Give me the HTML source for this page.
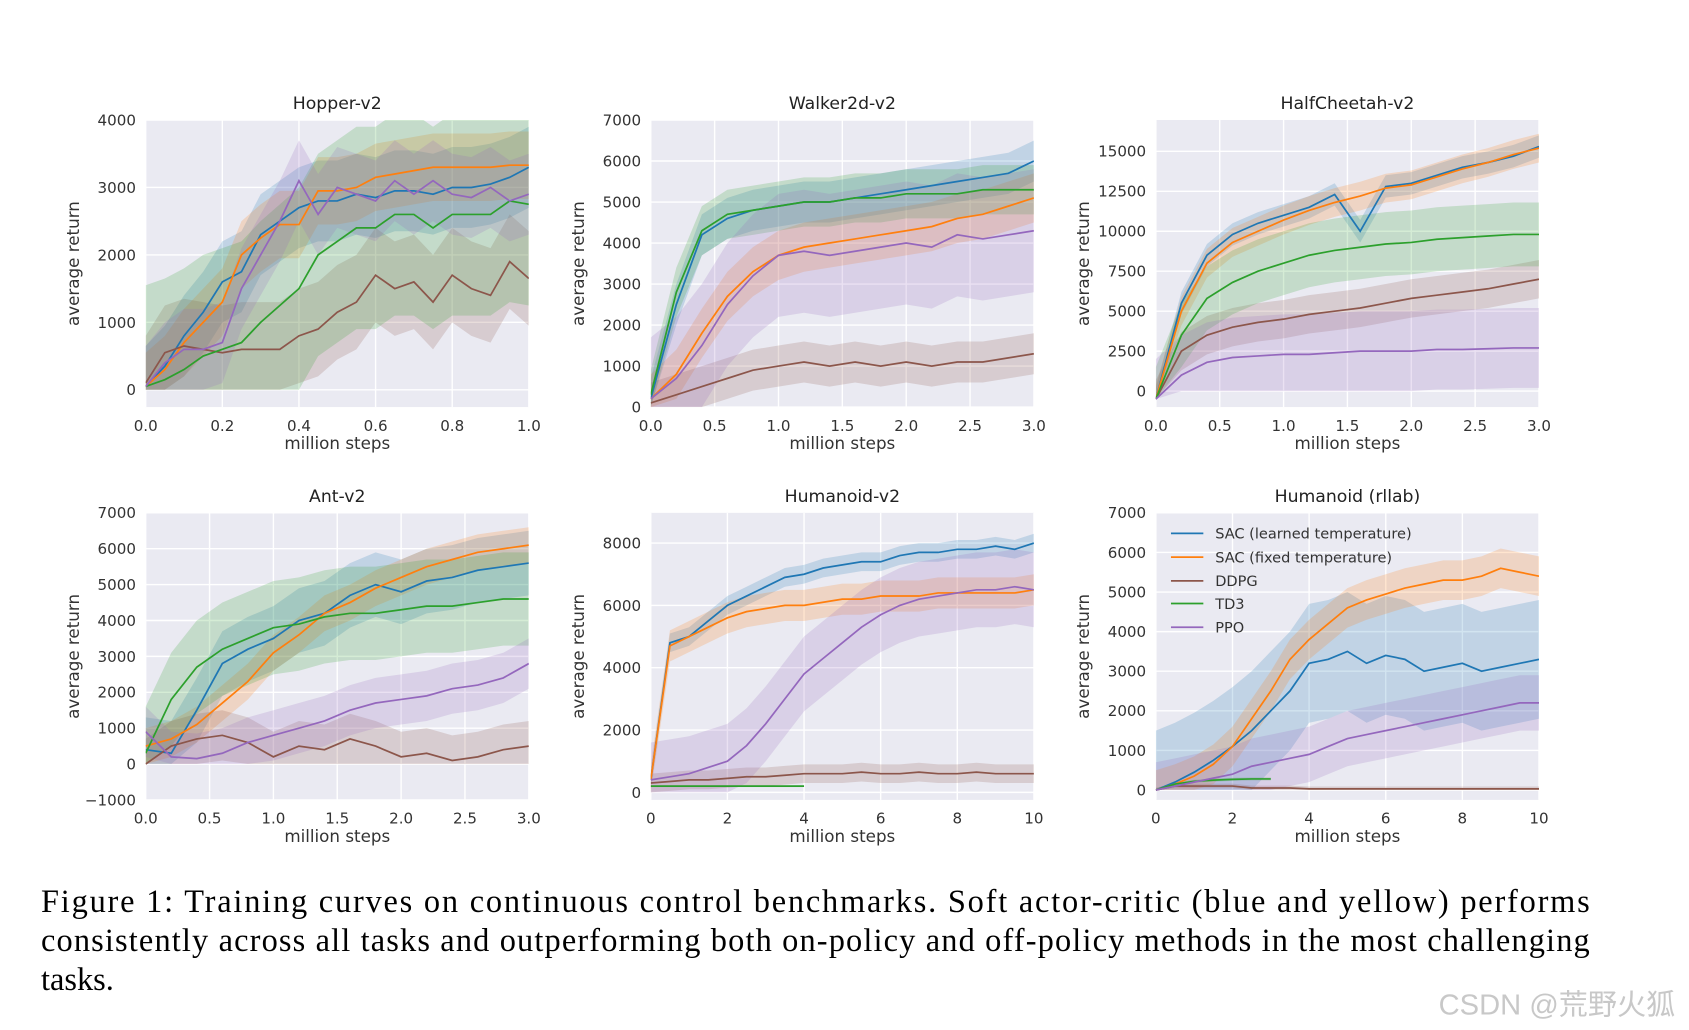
<!DOCTYPE html>
<html><head><meta charset="utf-8"><style>
html,body{margin:0;padding:0;background:#fff;}
svg{display:block;}
</style></head><body>
<svg id="fig" width="1689" height="1030" viewBox="0 0 1565 954" xmlns="http://www.w3.org/2000/svg" font-family="DejaVu Sans, Liberation Sans, sans-serif">
<g id="charts"></g>
<g font-size="13.5" fill="#333">
 <line x1="1085" y1="494" x2="1115" y2="494" stroke="#1f77b4" stroke-width="1.6"/><text x="1126" y="499">SAC (learned temperature)</text>
 <line x1="1085" y1="516" x2="1115" y2="516" stroke="#ff7f0e" stroke-width="1.6"/><text x="1126" y="521">SAC (fixed temperature)</text>
 <line x1="1085" y1="538" x2="1115" y2="538" stroke="#8c564b" stroke-width="1.6"/><text x="1126" y="543">DDPG</text>
 <line x1="1085" y1="559" x2="1115" y2="559" stroke="#2ca02c" stroke-width="1.6"/><text x="1126" y="564">TD3</text>
 <line x1="1085" y1="581" x2="1115" y2="581" stroke="#9467bd" stroke-width="1.6"/><text x="1126" y="586">PPO</text>
</g>
<g font-family="Liberation Serif, serif" font-size="30" fill="#000">
 <text x="38" y="845" textLength="1435" lengthAdjust="spacing">Figure 1:  Training curves on continuous control benchmarks.  Soft actor-critic (blue and yellow) performs</text>
 <text x="38" y="881" textLength="1435" lengthAdjust="spacing">consistently across all tasks and outperforming both on-policy and off-policy methods in the most challenging</text>
 <text x="38" y="917">tasks.</text>
</g>
<text x="1333" y="940" font-size="27" fill="#c8c8c8" font-family="Liberation Sans, Noto Sans CJK SC, sans-serif">CSDN @荒野火狐</text>
</svg>
<script>
const colors=['#1f77b4','#ff7f0e','#8c564b','#2ca02c','#9467bd'];
// Hopper-v2
const hopperX=[0,0.05,0.1,0.15,0.2,0.25,0.3,0.35,0.4,0.45,0.5,0.55,0.6,0.65,0.7,0.75,0.8,0.85,0.9,0.95,1.0];
const hopperBlue=[50,350,800,1150,1600,1750,2300,2500,2700,2800,2800,2900,2850,2950,2950,2900,3000,3000,3050,3150,3300];
const hopperOrange=[50,300,700,1000,1300,2000,2250,2450,2450,2950,2950,3000,3150,3200,3250,3300,3300,3300,3300,3330,3330];
const hopperBrown=[100,550,650,600,550,600,600,600,800,900,1150,1300,1700,1500,1600,1300,1700,1500,1400,1900,1650];
const hopperGreen=[50,150,300,500,600,700,1000,1250,1500,2000,2200,2400,2400,2600,2600,2400,2600,2600,2600,2800,2750];
const hopperPurple=[50,400,600,600,700,1500,2000,2500,3100,2600,3000,2900,2800,3100,2900,3100,2900,2850,3000,2800,2900];
const hopperSpread=[600,500,700,1500,600];
// Walker2d-v2
const walkerX=[0,0.2,0.4,0.6,0.8,1.0,1.2,1.4,1.6,1.8,2.0,2.2,2.4,2.6,2.8,3.0];
const walkerBlue=[200,2500,4200,4600,4800,4900,5000,5000,5100,5200,5300,5400,5500,5600,5700,6000];
const walkerOrange=[200,800,1800,2700,3300,3700,3900,4000,4100,4200,4300,4400,4600,4700,4900,5100];
const walkerBrown=[100,300,500,700,900,1000,1100,1000,1100,1000,1100,1000,1100,1100,1200,1300];
const walkerGreen=[300,2800,4300,4700,4800,4900,5000,5000,5100,5100,5200,5200,5200,5300,5300,5300];
const walkerPurple=[200,700,1500,2500,3200,3700,3800,3700,3800,3900,4000,3900,4200,4100,4200,4300];
const walkerSpread=[500,600,500,600,1500];
// HalfCheetah-v2
const cheetahX=walkerX;
const cheetahBlue=[-500,5500,8500,9800,10500,11000,11500,12300,10000,12800,13000,13500,14000,14300,14700,15300];
const cheetahOrange=[-500,5000,8000,9300,10000,10700,11300,11800,12200,12700,12900,13400,13900,14300,14800,15200];
const cheetahBrown=[-500,2500,3500,4000,4300,4500,4800,5000,5200,5500,5800,6000,6200,6400,6700,7000];
const cheetahGreen=[-500,3500,5800,6800,7500,8000,8500,8800,9000,9200,9300,9500,9600,9700,9800,9800];
const cheetahPurple=[-500,1000,1800,2100,2200,2300,2300,2400,2500,2500,2500,2600,2600,2650,2700,2700];
const cheetahSpread=[700,900,1200,2000,2500];
// Ant-v2
const antX=walkerX;
const antBlue=[400,300,1500,2800,3200,3500,4000,4200,4700,5000,4800,5100,5200,5400,5500,5600];
const antOrange=[500,700,1100,1700,2300,3100,3600,4200,4500,4900,5200,5500,5700,5900,6000,6100];
const antBrown=[0,500,700,800,600,200,500,400,700,500,200,300,100,200,400,500];
const antGreen=[300,1800,2700,3200,3500,3800,3900,4100,4200,4200,4300,4400,4400,4500,4600,4600];
const antPurple=[900,200,150,300,600,800,1000,1200,1500,1700,1800,1900,2100,2200,2400,2800];
const antSpread=[900,500,700,1300,700];
// Humanoid-v2
const humX=[0,0.5,1,1.5,2,2.5,3,3.5,4,4.5,5,5.5,6,6.5,7,7.5,8,8.5,9,9.5,10];
const humBlue=[400,4800,5000,5500,6000,6300,6600,6900,7000,7200,7300,7400,7400,7600,7700,7700,7800,7800,7900,7800,8000];
const humOrange=[400,4700,5000,5300,5600,5800,5900,6000,6000,6100,6200,6200,6300,6300,6300,6400,6400,6400,6400,6400,6500];
const humBrown=[300,350,400,400,450,500,500,550,600,600,600,650,600,600,650,600,600,650,600,600,600];
const humGreen=[200,200,200,200,200,200,200,200,200];
const humPurple=[400,500,600,800,1000,1500,2200,3000,3800,4300,4800,5300,5700,6000,6200,6300,6400,6500,6500,6600,6500];
const humSpread=[300,500,300,30,1200];
// Humanoid (rllab)
const rlX=humX;
const rlBlue=[0,200,450,750,1100,1500,2000,2500,3200,3300,3500,3200,3400,3300,3000,3100,3200,3000,3100,3200,3300];
const rlOrange=[0,150,350,650,1100,1800,2500,3300,3800,4200,4600,4800,4950,5100,5200,5300,5300,5400,5600,5500,5400];
const rlBrown=[0,100,100,100,100,50,50,50,30,30,30,30,30,30,30,30,30,30,30,30,30];
const rlGreen=[0,150,220,250,270,280,280];
const rlPurple=[0,100,200,300,400,600,700,800,900,1100,1300,1400,1500,1600,1700,1800,1900,2000,2100,2200,2200];
const rlSpread=[1500,500,60,40,700];

const ticksHopperY=[0,1000,2000,3000,4000], ticksHopperX=[0,0.2,0.4,0.6,0.8,1.0];
const ticks7000=[0,1000,2000,3000,4000,5000,6000,7000], ticks3X=[0,0.5,1,1.5,2,2.5,3];
const ticksCheetahY=[0,2500,5000,7500,10000,12500,15000];
const ticksAntY=[-1000,0,1000,2000,3000,4000,5000,6000,7000];
const ticksHumY=[0,2000,4000,6000,8000], ticks10X=[0,2,4,6,8,10];

const charts=[
 {name:'hopper',title:'Hopper-v2',L:135,T:111,R:490,B:377,xmin:0,xmax:1,ymin:-256,ymax:4000,xt:ticksHopperX,yt:ticksHopperY,xf:1,x:hopperX,s:[hopperBlue,hopperOrange,hopperBrown,hopperGreen,hopperPurple],sp:hopperSpread},
 {name:'walker',title:'Walker2d-v2',L:603,T:111,R:958,B:377,xmin:0,xmax:3,ymin:0,ymax:7000,xt:ticks3X,yt:ticks7000,xf:1,x:walkerX,s:[walkerBlue,walkerOrange,walkerBrown,walkerGreen,walkerPurple],sp:walkerSpread},
 {name:'halfcheetah',title:'HalfCheetah-v2',L:1071,T:111,R:1426,B:377,xmin:0,xmax:3,ymin:-1000,ymax:16960,xt:ticks3X,yt:ticksCheetahY,xf:1,x:cheetahX,s:[cheetahBlue,cheetahOrange,cheetahBrown,cheetahGreen,cheetahPurple],sp:cheetahSpread},
 {name:'ant',title:'Ant-v2',L:135,T:475,R:490,B:741,xmin:0,xmax:3,ymin:-1000,ymax:7000,xt:ticks3X,yt:ticksAntY,xf:1,x:antX,s:[antBlue,antOrange,antBrown,antGreen,antPurple],sp:antSpread},
 {name:'humanoid',title:'Humanoid-v2',L:603,T:475,R:958,B:741,xmin:0,xmax:10,ymin:-242,ymax:8970,xt:ticks10X,yt:ticksHumY,xf:0,x:humX,s:[humBlue,humOrange,humBrown,humGreen,humPurple],sp:humSpread},
 {name:'humanoid-rllab',title:'Humanoid (rllab)',L:1071,T:475,R:1426,B:741,xmin:0,xmax:10,ymin:-250,ymax:7000,xt:ticks10X,yt:ticks7000,xf:0,x:rlX,s:[rlBlue,rlOrange,rlBrown,rlGreen,rlPurple],sp:rlSpread}
];
const NS='http://www.w3.org/2000/svg';
const root=document.getElementById('charts');
function mk(tag,attrs,parent){const e=document.createElementNS(NS,tag);for(const k in attrs)e.setAttribute(k,attrs[k]);parent.appendChild(e);return e;}
charts.forEach((c,ci)=>{
 const g=mk('g',{},root);
 
 
 const sx=v=>c.L+(v-c.xmin)/(c.xmax-c.xmin)*(c.R-c.L);
 const sy=v=>c.B-(v-c.ymin)/(c.ymax-c.ymin)*(c.B-c.T);
 const bg=mk('rect',{x:c.L,y:c.T,width:c.R-c.L,height:c.B-c.T,fill:'#eaeaf2'},g);
 
 
 const cid='clip'+ci;
 const cp=mk('clipPath',{id:cid},g);mk('rect',{x:c.L,y:c.T,width:c.R-c.L,height:c.B-c.T},cp);
 c.yt.forEach(t=>{
  const ln=mk('line',{x1:c.L,x2:c.R,y1:sy(t),y2:sy(t),stroke:'#fff','stroke-width':1.3},g);
  
  
  const tx=mk('text',{x:c.L-9,y:sy(t)+5,'text-anchor':'end','font-size':14,fill:'#333'},g);
  tx.textContent=(t<0?'\u2212'+(-t):String(t));
  
  
 });
 c.xt.forEach(t=>{
  const ln=mk('line',{y1:c.T,y2:c.B,x1:sx(t),x2:sx(t),stroke:'#fff','stroke-width':1.3},g);
  
  
  const tx=mk('text',{x:sx(t),y:c.B+22,'text-anchor':'middle','font-size':14,fill:'#333'},g);
  tx.textContent=c.xf?t.toFixed(1):String(t);
  
  
 });
 const pg=mk('g',{'clip-path':'url(#'+cid+')'},g);
 c.s.forEach((arr,si)=>{
  const up=arr.map((v,i)=>sx(c.x[i])+','+sy(v+c.sp[si]));
  const lo=arr.map((v,i)=>sx(c.x[i])+','+sy(Math.max(v-c.sp[si],Math.min(v,0)))).reverse();
  const b=mk('polygon',{points:up.concat(lo).join(' '),fill:colors[si],'fill-opacity':0.2,stroke:'none'},pg);
  
  
 });
 c.s.forEach((arr,si)=>{
  const p=mk('polyline',{points:arr.map((v,i)=>sx(c.x[i])+','+sy(v)).join(' '),fill:'none',stroke:colors[si],'stroke-width':1.6},pg);
  
  
 });
 const ti=mk('text',{x:(c.L+c.R)/2,y:c.T-10,'text-anchor':'middle','font-size':16,fill:'#222'},g);
 ti.textContent=c.title;
 
 
 const xl=mk('text',{x:(c.L+c.R)/2,y:c.B+39,'text-anchor':'middle','font-size':15.5,fill:'#333'},g);
 xl.textContent='million steps';
 
 
 const yx=c.L-62,yy=(c.T+c.B)/2;
 const yl=mk('text',{x:yx,y:yy,'text-anchor':'middle','font-size':15.5,fill:'#333',transform:'rotate(-90 '+yx+' '+yy+')'},g);
 yl.textContent='average return';
 
 
});
</script>
</body></html>
